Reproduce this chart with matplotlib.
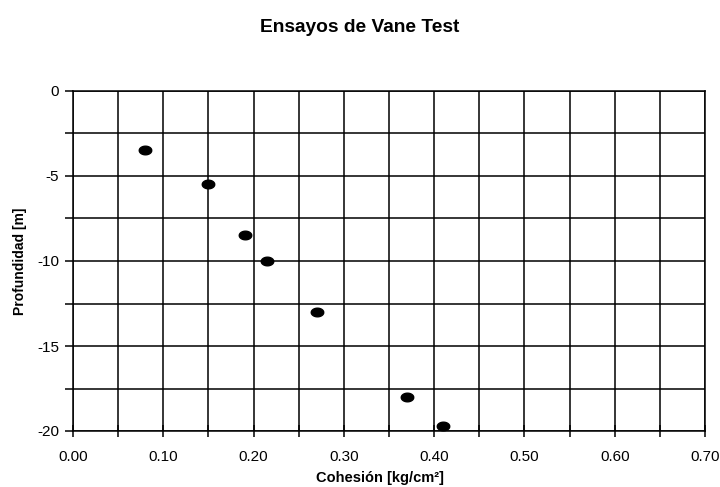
import matplotlib
matplotlib.use("Agg")
import matplotlib.pyplot as plt
import numpy as np
from matplotlib.path import Path

plt.rcParams['font.family'] = ['Liberation Sans', 'DejaVu Sans']
plt.rcParams['axes.unicode_minus'] = False

# Vane test data
cohesion = [0.08, 0.15, 0.19, 0.215, 0.27, 0.37, 0.41]
depth = [-3.5, -5.5, -8.5, -10.0, -13.0, -18.0, -19.7]

x_ticks = [0.0, 0.1, 0.2, 0.3, 0.4, 0.5, 0.6, 0.7]
x_labels = ["0.00", "0.10", "0.20", "0.30", "0.40", "0.50", "0.60", "0.70"]
y_ticks = [0, -5, -10, -15, -20]

fig = plt.figure(figsize = (7.2, 4.87), dpi = 100)
ax = fig.add_axes([73 / 720, 1 - 431 / 487, 632 / 720, 340 / 487])

# ellipse marker, wider than tall
t = np.linspace(0, 2 * np.pi, 60)
ell = Path(np.column_stack([1.45 * np.cos(t), np.sin(t)]))

ax.plot(cohesion, depth, linestyle = "none", marker = ell,
        markersize = 9, color = "black", zorder = 3, clip_on = False)

ax.set_xlim(0, 0.7)
ax.set_ylim(-20, 0)
ax.set_xticks(x_ticks)
ax.set_xticklabels(x_labels)
ax.set_xticks(np.arange(0.05, 0.7, 0.1), minor = True)
ax.set_yticks(y_ticks)
ax.set_yticks(np.arange(-17.5, 0, 5), minor = True)

ax.grid(True, which = "both", color = "black", linewidth = 1.1)
for s in ax.spines.values():
    s.set_linewidth(1.1)

ax.tick_params(axis = "x", which = "both", direction = "inout",
               length = 8, width = 1.1, labelsize = 11, pad = 10)
ax.tick_params(axis = "y", which = "both", direction = "out",
               length = 6, width = 1.1, labelsize = 11, pad = 4)

ax.set_xlabel("Cohesión [kg/cm²]", fontsize = 10.5, fontweight = "bold", labelpad = 5)
ax.set_ylabel("Profundidad [m]", fontsize = 10, fontweight = "bold", labelpad = 7)
# label sits a bit left of the axes centre in the original
ax.xaxis.label.set_x((380 - 73) / 632)

fig.text(0.5, 1 - 28 / 487, "Ensayos de Vane Test", ha = "center", va = "center",
         fontsize = 13.8, fontweight = "bold")

fig.savefig("out.png", dpi = 100)
